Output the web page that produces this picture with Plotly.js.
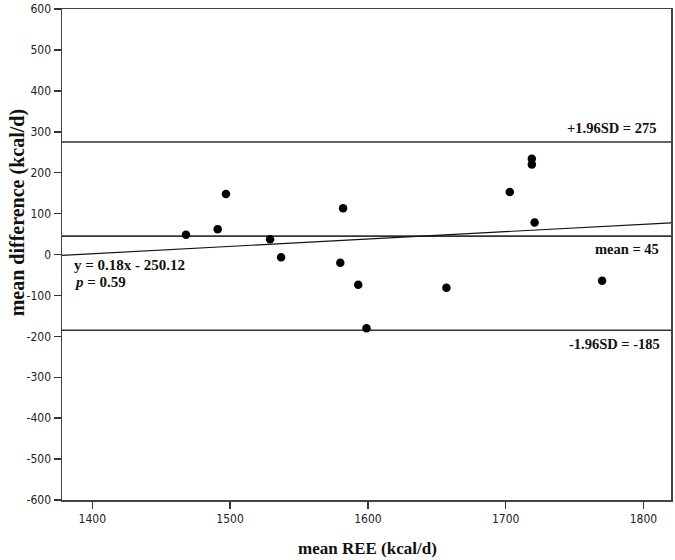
<!DOCTYPE html>
<html>
<head>
<meta charset="utf-8">
<script src="https://cdn.plot.ly/plotly-3.0.1.min.js"></script>
<style>html,body{margin:0;padding:0;background:#fff;}#chart{width:675px;height:560px;}</style>
</head>
<body>
<div id="chart"></div>
<script>
// Data
const meanREE = [1468, 1491, 1497, 1529, 1537, 1580, 1582, 1593, 1599, 1657, 1703, 1719, 1719, 1721, 1770];
const meanDiff = [48, 62, 148, 37, -7, -20, 113, -74, -180, -81, 153, 234, 220, 78, -64];
const meanLine = 45;
const upperLoA = 275;
const lowerLoA = -185;
const regSlope = 0.18;
const regIntercept = -250.12;
const xRange = [1378, 1820];
const xTicks = [1400, 1500, 1600, 1700, 1800];
const yTicks = [-600, -500, -400, -300, -200, -100, 0, 100, 200, 300, 400, 500, 600];

const serif = "Liberation Serif, Times New Roman, serif";
const tickFont = {family: "DejaVu Sans Condensed, DejaVu Sans, sans-serif", size: 12, color: "#222"};

const hline = (y) => ({
  x: xRange, y: [y, y], mode: "lines", type: "scatter",
  line: {color: "#333", width: 1.6}, hoverinfo: "skip", showlegend: false
});

const traces = [
  hline(upperLoA), hline(meanLine), hline(lowerLoA),
  {
    x: xRange, y: xRange.map(v => regSlope * v + regIntercept),
    mode: "lines", type: "scatter", line: {color: "#111", width: 1.2}, showlegend: false
  },
  {
    x: meanREE, y: meanDiff, mode: "markers", type: "scatter",
    marker: {color: "#000", size: 8.5}, showlegend: false
  }
];

const layout = {
  width: 675, height: 560,
  margin: {l: 62, r: 4, t: 9, b: 60},
  paper_bgcolor: "#fff", plot_bgcolor: "#fff",
  showlegend: false,
  xaxis: {
    range: xRange, tickvals: xTicks, ticktext: xTicks.map(String),
    ticks: "outside", ticklen: 7, tickwidth: 1.5, tickcolor: "#333",
    showline: true, mirror: true, linecolor: "#444", linewidth: 1.5,
    showgrid: false, zeroline: false, tickfont: tickFont
  },
  yaxis: {
    range: [-600, 600], tickvals: yTicks, ticktext: yTicks.map(String),
    ticks: "outside", ticklen: 7, tickwidth: 1.5, tickcolor: "#333",
    showline: true, mirror: true, linecolor: "#444", linewidth: 1.5,
    showgrid: false, zeroline: false, tickfont: tickFont
  },
  annotations: [
    {xref: "paper", yref: "y", x: 0.978, y: upperLoA, yshift: 14, xanchor: "right", yanchor: "middle",
     text: "<b>+1.96SD = 275</b>", showarrow: false, font: {family: serif, size: 14.5, color: "#111"}},
    {xref: "paper", yref: "y", x: 0.984, y: meanLine, yshift: -13, xanchor: "right", yanchor: "middle",
     text: "<b>mean = 45</b>", showarrow: false, font: {family: serif, size: 14.5, color: "#111"}},
    {xref: "paper", yref: "y", x: 0.986, y: lowerLoA, yshift: -14, xanchor: "right", yanchor: "middle",
     text: "<b>-1.96SD = -185</b>", showarrow: false, font: {family: serif, size: 14.5, color: "#111"}},
    {xref: "paper", yref: "paper", x: 0.0167, y: 0.4786, xanchor: "left", yanchor: "middle",
     text: "<b>y = 0.18x - 250.12</b>", showarrow: false, font: {family: serif, size: 15, color: "#111"}},
    {xref: "paper", yref: "paper", x: 0.0167, y: 0.4434, xanchor: "left", yanchor: "middle",
     text: "<b><i>p</i> = 0.59</b>", showarrow: false, font: {family: serif, size: 15, color: "#111"}},
    {xref: "paper", yref: "paper", x: 0.5016, y: -0.0978, xanchor: "center", yanchor: "middle",
     text: "<b>mean REE (kcal/d)</b>", showarrow: false, font: {family: serif, size: 17, color: "#111"}},
    {xref: "paper", yref: "paper", x: -0.073, y: 0.585, xanchor: "center", yanchor: "middle", textangle: -90,
     text: "<b>mean difference (kcal/d)</b>", showarrow: false, font: {family: serif, size: 20, color: "#111"}}
  ]
};

Plotly.newPlot("chart", traces, layout, {staticPlot: true, displayModeBar: false});
</script>
</body>
</html>
